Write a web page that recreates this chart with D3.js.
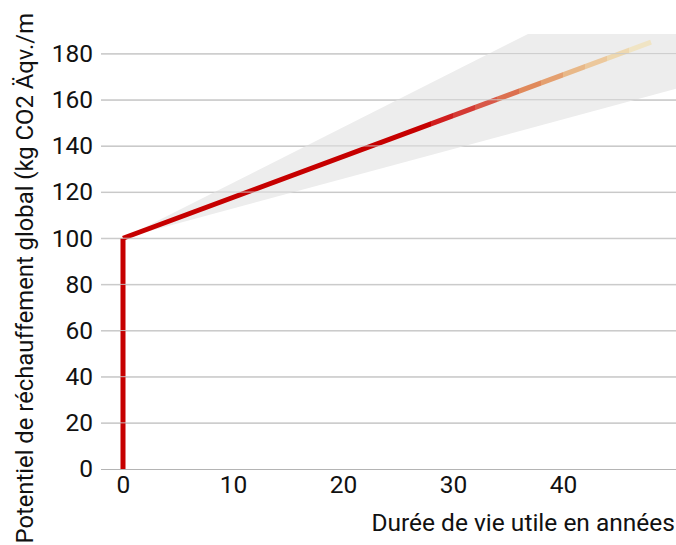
<!DOCTYPE html>
<html>
<head>
<meta charset="utf-8">
<script src="https://cdn.jsdelivr.net/npm/d3@7/dist/d3.min.js"></script>
<style>
  html, body { margin: 0; padding: 0; background: #fff; }
  svg { display: block; font-family: Roboto, "Noto Sans", sans-serif; }
</style>
</head>
<body>
<svg id="chart" width="676" height="545"></svg>
<script>
// Global warming potential over the service life
const yTicks = [0, 20, 40, 60, 80, 100, 120, 140, 160, 180];
const xTicks = [0, 10, 20, 30, 40];

// Initial (embodied) step at year 0
const stepYears = [0, 0];
const stepValues = [0, 100];

// Central estimate over the years of use
const lineYears = [0, 48];
const lineValues = [100, 185];

// Uncertainty band around the estimate
const bandYears = [0, 52];
const bandLow = [100, 167];
const bandHigh = [100, 225];

// Colour of the estimate by year (fades out towards the end of life)
const fadeYears = [0, 28, 30, 32, 34, 36, 38, 40, 42, 44, 46, 48];
const fadeColors = ["#c60000", "#d01e1e", "#d43a34", "#d85848", "#dc7050", "#e08a5c",
                    "#e4a070", "#e8b888", "#ecc89c", "#eed8b0", "#f0e4c4"];

const xLabel = "Durée de vie utile en années";
const yLabel = "Potentiel de réchauffement global (kg CO2 Äqv./m";

const svg = d3.select("#chart");
const W = 676;
const FS = 24.5;

const x = d3.scaleLinear().domain([-2, 50.27]).range([101, W]);
const y = d3.scaleLinear().domain([0, 188.5]).range([469, 34]);

const defs = svg.append("defs");
defs.append("clipPath").attr("id", "plot-clip")
  .append("rect")
  .attr("x", x(-2)).attr("y", y(188.5))
  .attr("width", W - x(-2)).attr("height", y(0) - y(188.5));

// Stepped gradient along x, one block per colour interval
const grad = defs.append("linearGradient")
  .attr("id", "fade")
  .attr("gradientUnits", "userSpaceOnUse")
  .attr("x1", x(lineYears[0])).attr("y1", 0)
  .attr("x2", x(lineYears[1])).attr("y2", 0);
const span = lineYears[1] - lineYears[0];
fadeColors.forEach((c, i) => {
  grad.append("stop").attr("offset", (fadeYears[i] - lineYears[0]) / span).attr("stop-color", c);
  grad.append("stop").attr("offset", (fadeYears[i + 1] - lineYears[0]) / span).attr("stop-color", c);
});

// Grid lines
const grid = svg.append("g")
  .attr("transform", `translate(${x(-2)},0)`)
  .call(d3.axisLeft(y).tickValues(yTicks).tickSize(-(W - x(-2))).tickFormat(""));
grid.select(".domain").remove();
grid.selectAll(".tick line").attr("stroke", d => d === 0 ? "#b4b4b4" : "#c8c8c8").attr("stroke-width", 1);

// Y tick labels
const yAxis = svg.append("g")
  .attr("transform", `translate(${x(-2)},0)`)
  .call(d3.axisLeft(y).tickValues(yTicks).tickSize(0).tickPadding(8));
yAxis.select(".domain").remove();
yAxis.selectAll("text")
  .attr("font-family", "Roboto, sans-serif")
  .attr("font-size", FS)
  .attr("fill", "#111");

// X tick labels
const xAxis = svg.append("g")
  .attr("transform", `translate(0,${y(0)})`)
  .call(d3.axisBottom(x).tickValues(xTicks).tickSize(0).tickPadding(7));
xAxis.select(".domain").remove();
xAxis.selectAll("text")
  .attr("font-family", "Roboto, sans-serif")
  .attr("font-size", FS)
  .attr("fill", "#111");

const plot = svg.append("g").attr("clip-path", "url(#plot-clip)");

// Band
const bandData = bandYears.map((t, i) => ({ t, lo: bandLow[i], hi: bandHigh[i] }));
plot.append("path")
  .datum(bandData)
  .attr("fill", "#ededed")
  .attr("d", d3.area().x(d => x(d.t)).y0(d => y(d.lo)).y1(d => y(d.hi)));

// Grid lines again above the band so they stay visible
svg.append("g")
  .attr("clip-path", "url(#plot-clip)")
  .selectAll("line")
  .data(yTicks.filter(v => v > 0))
  .join("line")
  .attr("x1", x(-2)).attr("x2", W)
  .attr("y1", d => y(d)).attr("y2", d => y(d))
  .attr("stroke", "#c8c8c8").attr("stroke-width", 1).attr("opacity", 0.9);

// Initial step
plot.append("path")
  .datum(stepYears.map((t, i) => [t, stepValues[i]]))
  .attr("fill", "none")
  .attr("stroke", "#c60000")
  .attr("stroke-width", 5)
  .attr("d", d3.line().x(d => x(d[0])).y(d => y(d[1])));

// Estimate over the service life
plot.append("path")
  .datum(lineYears.map((t, i) => [t, lineValues[i]]))
  .attr("fill", "none")
  .attr("stroke", "url(#fade)")
  .attr("stroke-width", 5)
  .attr("d", d3.line().x(d => x(d[0])).y(d => y(d[1])));

// Axis titles
svg.append("text")
  .attr("x", W - 1).attr("y", 531)
  .attr("text-anchor", "end")
  .attr("font-size", FS)
  .attr("fill", "#111")
  .text(xLabel);

svg.append("text")
  .attr("transform", `translate(33,13) rotate(-90)`)
  .attr("text-anchor", "end")
  .attr("font-size", 23.8)
  .attr("fill", "#111")
  .text(yLabel);
</script>
</body>
</html>
